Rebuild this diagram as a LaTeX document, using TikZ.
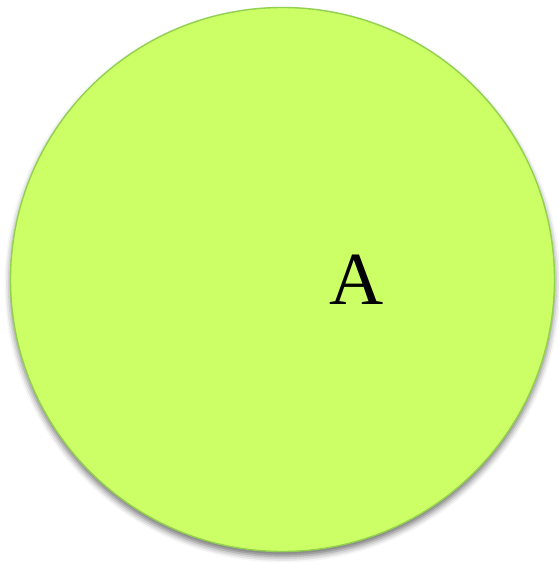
\documentclass[tikz,border=0pt]{standalone}
\usepackage{fontspec}
\setmainfont{Liberation Serif}
\usetikzlibrary{shadows.blur}
\definecolor{circfill}{RGB}{204,255,102}
\definecolor{circline}{RGB}{146,208,80}
\begin{document}
\begin{tikzpicture}[x=1pt,y=1pt,
  bigcircle/.style={circle, fill=circfill, draw=circline, line width=1.4pt, minimum size=544pt, inner sep=0pt,
    blur shadow={shadow xshift=0pt, shadow yshift=-5pt, shadow blur radius=6pt, shadow opacity=55}},
  label/.style={font=\fontsize{75}{75}\selectfont, inner sep=0pt}]
\useasboundingbox (0,0) rectangle (558,563);
\node[bigcircle] (c) at (282.5,283.5) {};
\node[label] (a) at (357,283) {A};
\end{tikzpicture}
\end{document}
